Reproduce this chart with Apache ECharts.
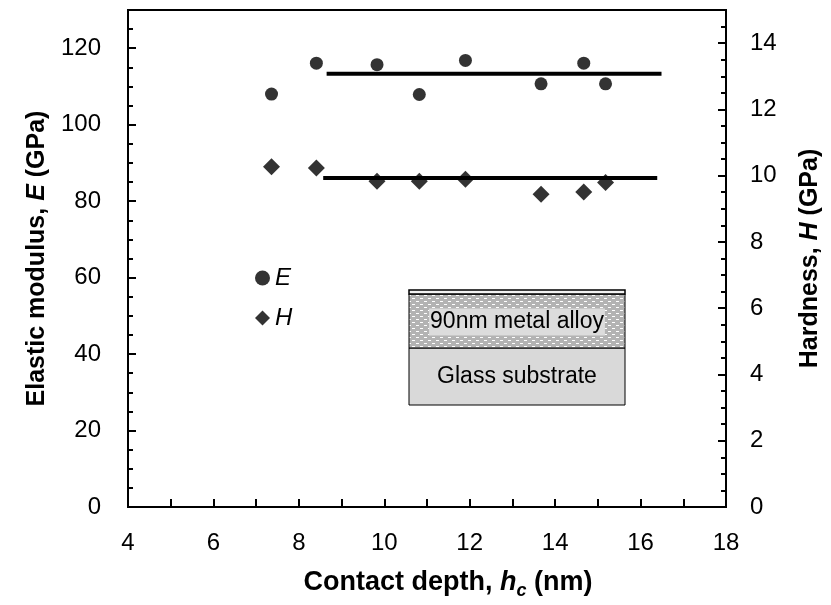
<!DOCTYPE html>
<html><head><meta charset="utf-8">
<script src="https://cdn.jsdelivr.net/npm/echarts@6/dist/echarts.min.js"></script>
<style>html,body{margin:0;padding:0;background:#fff}#c{width:831px;height:605px}</style>
</head><body><div id="c"></div>
<script>
// ---- data ----
const depthE = [7.36, 8.41, 9.83, 10.82, 11.90, 13.67, 14.67, 15.18];
const modulusE = [108.0, 116.1, 115.7, 107.9, 116.8, 110.7, 116.1, 110.7];
const depthH = [7.36, 8.41, 9.83, 10.82, 11.90, 13.67, 14.67, 15.18];
const hardnessH = [10.27, 10.23, 9.83, 9.83, 9.89, 9.44, 9.51, 9.79];
const meanLineEx = [8.65, 16.49];
const meanLineEy = [113.3, 113.3];
const meanLineHx = [8.57, 16.39];
const meanLineHy = [9.93, 9.93];
const xRange = [4, 18];
const eRange = [0, 130];
const hRange = [0, 15];
const insetLayers = ['90nm metal alloy', 'Glass substrate'];

const FONT = '"Liberation Sans", Arial, sans-serif';
const zip = (a, b) => a.map((v, i) => [v, b[i]]);

// hatch pattern for the metal layer
const pc = document.createElement('canvas');
pc.width = 8; pc.height = 6;
const g = pc.getContext('2d');
g.fillStyle = '#b3b3b3'; g.fillRect(0, 0, 8, 6);
g.fillStyle = '#ffffff';
g.fillRect(0, 1, 3, 1); g.fillRect(4, 4, 3, 1);

const chart = echarts.init(document.getElementById('c'));
const baseLabel = { color: '#000', fontFamily: FONT, fontSize: 24 };
function nameStyle(fs) {
  return {
    color: '#000', fontFamily: FONT, fontSize: fs, fontWeight: 'bold',
    rich: {
      i: { fontFamily: FONT, fontSize: fs, fontWeight: 'bold', fontStyle: 'italic', color: '#000' },
      s: { fontFamily: FONT, fontSize: Math.round(fs * 0.68), fontWeight: 'bold', fontStyle: 'italic', color: '#000', lineHeight: Math.round(fs * 0.68), verticalAlign: 'bottom' }
    }
  };
}
const axLine = { show: true, lineStyle: { color: '#000', width: 2 } };

chart.setOption({
  animation: false,
  backgroundColor: '#fff',
  grid: { left: 128, right: 102, top: 10, bottom: 96, show: true, borderColor: '#000', borderWidth: 2, backgroundColor: 'transparent' },
  legend: {
    orient: 'vertical', left: 250, top: 261, itemWidth: 15, itemHeight: 15, itemGap: 16,
    textStyle: { fontFamily: FONT, fontSize: 24, fontStyle: 'italic', color: '#000', lineHeight: 24 },
    data: ['E', 'H']
  },
  xAxis: {
    type: 'value', min: xRange[0], max: xRange[1], interval: 2,
    axisLine: axLine,
    axisTick: { inside: true, length: 8, lineStyle: { color: '#000', width: 2 } },
    minorTick: { show: true, splitNumber: 2, length: 8, lineStyle: { color: '#000', width: 2 } },
    axisLabel: Object.assign({ margin: 24 }, baseLabel),
    splitLine: { show: false },
    name: 'Contact depth, {i|h}{s|c} (nm)', nameLocation: 'middle', nameGap: 58,
    nameTextStyle: Object.assign(nameStyle(27), { lineHeight: 35, padding: [0, 0, 0, 42] })
  },
  yAxis: [
    {
      type: 'value', position: 'left', min: eRange[0], max: eRange[1], interval: 20,
      axisLine: axLine,
      axisTick: { inside: true, length: 8, lineStyle: { color: '#000', width: 2 } },
      axisLabel: Object.assign({ margin: 27, showMaxLabel: false }, baseLabel),
      splitLine: { show: false },
      name: 'Elastic modulus, {i|E} (GPa)', nameLocation: 'middle', nameGap: 78,
      nameTextStyle: nameStyle(25)
    },
    {
      type: 'value', position: 'right', min: hRange[0], max: hRange[1], interval: 2,
      axisLine: axLine,
      axisTick: { inside: true, length: 8, lineStyle: { color: '#000', width: 2 } },
      axisLabel: Object.assign({ margin: 24, showMaxLabel: false }, baseLabel),
      splitLine: { show: false },
      name: 'Hardness, {i|H} (GPa)', nameLocation: 'middle', nameGap: 72,
      nameTextStyle: nameStyle(25)
    },
    {
      type: 'value', position: 'left', min: eRange[0], max: eRange[1], interval: 5,
      axisLine: { show: false },
      axisTick: { inside: true, length: 5, lineStyle: { color: '#000', width: 2 } },
      axisLabel: { show: false }, splitLine: { show: false }
    },
    {
      type: 'value', position: 'right', min: hRange[0], max: hRange[1], interval: 0.5,
      axisLine: { show: false },
      axisTick: { inside: true, length: 5, lineStyle: { color: '#000', width: 2 } },
      axisLabel: { show: false }, splitLine: { show: false }
    }
  ],
  series: [
    { name: 'E mean', type: 'line', yAxisIndex: 0, data: zip(meanLineEx, meanLineEy), symbol: 'none',
      lineStyle: { color: '#000', width: 4 }, z: 2 },
    { name: 'H mean', type: 'line', yAxisIndex: 1, data: zip(meanLineHx, meanLineHy), symbol: 'none',
      lineStyle: { color: '#000', width: 4 }, z: 2 },
    { name: 'E', type: 'scatter', yAxisIndex: 0, data: zip(depthE, modulusE), symbol: 'circle', symbolSize: 13,
      itemStyle: { color: '#000' }, z: 3 },
    { name: 'H', type: 'scatter', yAxisIndex: 1, data: zip(depthH, hardnessH), symbol: 'diamond', symbolSize: 17,
      itemStyle: { color: '#000' }, z: 3 }
  ],
  graphic: [
    { type: 'rect', shape: { x: 409, y: 348, width: 216, height: 57 }, style: { fill: '#d9d9d9', stroke: '#000', lineWidth: 1 }, z: 10 },
    { type: 'rect', shape: { x: 409, y: 294, width: 216, height: 54 }, style: { fill: { image: pc, repeat: 'repeat' }, stroke: '#000', lineWidth: 1 }, z: 10 },
    { type: 'rect', shape: { x: 409, y: 290, width: 216, height: 4 }, style: { fill: '#f2f2f2', stroke: '#000', lineWidth: 1.5 }, z: 10 },
    { type: 'text', x: 517, y: 322, style: { text: insetLayers[0], font: '23px ' + FONT, fill: '#000', align: 'center', verticalAlign: 'middle', backgroundColor: '#dcdcdc', padding: [2, 1, 2, 1] }, z: 11 },
    { type: 'text', x: 517, y: 377, style: { text: insetLayers[1], font: '23px ' + FONT, fill: '#000', align: 'center', verticalAlign: 'middle' }, z: 11 }
  ]
});
</script>
</body></html>
